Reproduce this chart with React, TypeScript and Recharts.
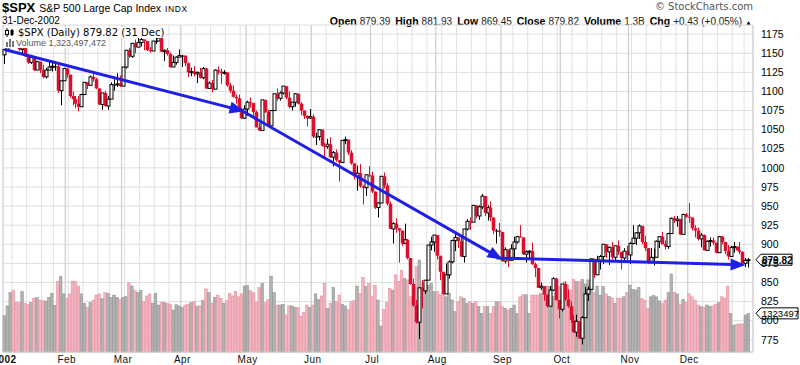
import React from "react"
import { ComposedChart, Bar, XAxis, YAxis, CartesianGrid, ReferenceLine } from "recharts"

const FONT = '"Liberation Sans", Arial, sans-serif'
const RED = "#dc0f2d"
const BLUE = "#1f1fe6"

// NYSE closed on these weekdays in 2002
const holidays = [
  "2002-01-01", "2002-01-21", "2002-02-18", "2002-03-29", "2002-05-27",
  "2002-07-04", "2002-09-02", "2002-11-28", "2002-12-25",
]
const monthLabels = ["2002", "Feb", "Mar", "Apr", "May", "Jun", "Jul", "Aug", "Sep", "Oct", "Nov", "Dec"]
const priceTicks = [775, 800, 825, 850, 875, 900, 925, 950, 975, 1000, 1025, 1050, 1075, 1100, 1125, 1150, 1175]

const opens = [
  1148, 1155, 1165, 1173, 1165, 1161, 1155, 1157, 1146, 1138, 1146, 1128, 1139, 1128, 1119, 1128, 1132, 1133, 1133, 1101, 1114,
  1130, 1122, 1094, 1090, 1084, 1080, 1096, 1112, 1108, 1119, 1116, 1104, 1083, 1098, 1081, 1090, 1109, 1109, 1110,
  1107, 1132, 1154, 1146, 1163, 1158, 1164, 1168, 1166, 1154, 1153, 1166, 1166, 1170, 1152, 1154, 1149, 1132, 1138, 1145,
  1147, 1147, 1137, 1125, 1126, 1123, 1125, 1118, 1130, 1104, 1111, 1103, 1128, 1126, 1124, 1125, 1108, 1101, 1093, 1091, 1076, 1065,
  1077, 1086, 1085, 1073, 1053, 1049, 1089, 1073, 1055, 1075, 1097, 1091, 1098, 1107, 1092, 1080, 1086, 1097, 1084, 1075, 1068, 1065,
  1067, 1041, 1041, 1050, 1029, 1028, 1031, 1014, 1020, 1010, 1007, 1036, 1037, 1020, 1006, 989, 993, 976, 974, 991,
  990, 969, 948, 954, 989, 977, 953, 920, 927, 921, 918, 901, 906, 882, 848, 820, 798, 843, 839, 853, 899, 903,
  912, 885, 864, 835, 860, 877, 905, 909, 904, 884, 920, 930, 929, 951, 937, 949, 963, 941, 948, 935, 918, 918,
  916, 878, 893, 879, 894, 903, 910, 909, 887, 890, 891, 874, 869, 843, 845, 834, 819, 840, 855, 827,
  815, 848, 828, 819, 801, 785, 799, 777, 804, 835, 841, 881, 860, 879, 884, 900, 890, 896, 883, 898, 890, 882, 891,
  886, 901, 908, 915, 924, 903, 895, 876, 883, 883, 904, 910, 900, 897, 914, 934, 931, 933, 913, 939,
  936, 935, 921, 918, 907, 912, 892, 904, 905, 902, 889, 910, 903, 891, 884, 896, 897, 892, 890, 875, 879.39,
]
const highs = [
  1155, 1166, 1177, 1177, 1167, 1175, 1160, 1160, 1146, 1148, 1146, 1140, 1139, 1135, 1131, 1140, 1139, 1139, 1138, 1114, 1131,
  1131, 1122, 1100, 1094, 1094, 1097, 1112, 1112, 1121, 1124, 1118, 1104, 1098, 1101, 1094, 1112, 1116, 1124, 1121,
  1132, 1154, 1157, 1163, 1168, 1173, 1173, 1168, 1166, 1158, 1166, 1173, 1174, 1170, 1155, 1157, 1151, 1147, 1146, 1155,
  1148, 1147, 1138, 1131, 1133, 1126, 1131, 1132, 1131, 1113, 1115, 1129, 1133, 1130, 1128, 1125, 1111, 1108, 1096, 1096, 1079, 1082,
  1088, 1092, 1085, 1075, 1059, 1089, 1089, 1076, 1075, 1097, 1104, 1100, 1107, 1107, 1100, 1086, 1098, 1097, 1086, 1075, 1069, 1077,
  1070, 1046, 1050, 1050, 1033, 1038, 1040, 1022, 1024, 1010, 1036, 1041, 1037, 1023, 1006, 1003, 1005, 977, 991, 1002,
  995, 969, 955, 989, 994, 980, 956, 929, 934, 921, 918, 927, 907, 882, 855, 827, 844, 853, 853, 899, 910, 912,
  912, 885, 864, 875, 879, 906, 914, 909, 911, 920, 933, 935, 951, 951, 951, 966, 963, 951, 956, 935, 920, 928,
  916, 896, 893, 900, 910, 911, 925, 909, 892, 892, 902, 876, 869, 850, 845, 834, 845, 857, 856, 827,
  848, 851, 841, 825, 808, 808, 799, 806, 844, 845, 881, 881, 885, 886, 900, 900, 897, 903, 898, 905, 890, 895, 898,
  903, 925, 916, 926, 924, 911, 895, 895, 894, 905, 910, 916, 905, 915, 935, 937, 937, 933, 940, 941,
  954, 935, 925, 922, 915, 913, 905, 909, 909, 902, 911, 911, 903, 899, 898, 903, 897, 903, 891, 882, 881.93,
]
const lows = [
  1136, 1154, 1163, 1161, 1157, 1153, 1148, 1145, 1136, 1136, 1127, 1128, 1124, 1117, 1117, 1128, 1126, 1127, 1098, 1082, 1114,
  1118, 1092, 1082, 1078, 1074, 1080, 1096, 1103, 1108, 1113, 1103, 1082, 1076, 1080, 1076, 1090, 1101, 1106, 1106,
  1107, 1130, 1144, 1144, 1150, 1158, 1159, 1154, 1153, 1151, 1153, 1162, 1166, 1152, 1140, 1147, 1131, 1132, 1135, 1145,
  1132, 1133, 1119, 1120, 1120, 1111, 1117, 1116, 1103, 1104, 1099, 1103, 1122, 1110, 1122, 1106, 1098, 1092, 1084, 1076, 1064, 1064,
  1068, 1079, 1068, 1053, 1048, 1049, 1072, 1054, 1053, 1075, 1088, 1088, 1096, 1090, 1078, 1075, 1080, 1083, 1069, 1064, 1054, 1064,
  1039, 1030, 1036, 1028, 1012, 1025, 1013, 1002, 1008, 982, 1007, 1031, 1017, 1004, 985, 970, 974, 952, 963, 988,
  967, 946, 935, 954, 973, 951, 920, 901, 915, 876, 898, 901, 880, 847, 818, 796, 776, 816, 835, 853, 892, 890,
  880, 853, 834, 835, 855, 875, 891, 895, 883, 876, 918, 919, 929, 934, 932, 946, 937, 931, 930, 913, 901, 910,
  877, 875, 870, 879, 883, 901, 909, 886, 876, 880, 873, 857, 843, 840, 826, 817, 819, 839, 826, 803,
  812, 826, 817, 797, 784, 779, 776, 769, 804, 826, 841, 856, 860, 867, 874, 882, 873, 880, 877, 886, 867, 879, 879,
  874, 900, 899, 907, 900, 891, 874, 876, 872, 883, 895, 900, 893, 894, 914, 928, 923, 912, 913, 935,
  928, 918, 909, 905, 896, 892, 892, 897, 899, 888, 889, 900, 887, 880, 884, 889, 892, 887, 873, 870, 869.45,
]
const closes = [
  1155, 1165, 1173, 1165, 1161, 1155, 1157, 1146, 1138, 1146, 1128, 1139, 1128, 1119, 1128, 1132, 1133, 1133, 1101, 1114, 1130,
  1122, 1094, 1090, 1084, 1080, 1096, 1112, 1108, 1119, 1116, 1104, 1083, 1098, 1081, 1090, 1109, 1109, 1110, 1107,
  1132, 1154, 1146, 1163, 1158, 1164, 1168, 1166, 1154, 1153, 1166, 1166, 1170, 1152, 1154, 1149, 1132, 1138, 1145, 1147,
  1147, 1137, 1125, 1126, 1123, 1125, 1118, 1130, 1104, 1111, 1103, 1128, 1126, 1124, 1125, 1108, 1101, 1093, 1091, 1076, 1065, 1077,
  1086, 1085, 1073, 1053, 1049, 1089, 1073, 1055, 1075, 1097, 1091, 1098, 1107, 1092, 1080, 1086, 1097, 1084, 1075, 1068, 1065, 1067,
  1041, 1041, 1050, 1029, 1028, 1031, 1014, 1020, 1010, 1007, 1036, 1037, 1020, 1006, 989, 993, 976, 974, 991, 990,
  969, 948, 954, 989, 977, 953, 920, 927, 921, 918, 901, 906, 882, 848, 820, 798, 843, 839, 853, 899, 903, 912,
  885, 864, 835, 860, 877, 905, 909, 904, 884, 920, 930, 929, 951, 937, 949, 963, 941, 948, 935, 918, 918, 916,
  878, 893, 879, 894, 903, 910, 909, 887, 890, 891, 874, 869, 843, 845, 834, 819, 840, 855, 827, 815,
  848, 828, 819, 801, 785, 799, 777, 804, 835, 841, 881, 860, 879, 884, 900, 890, 896, 883, 898, 890, 882, 891, 886,
  901, 908, 915, 924, 903, 895, 876, 883, 883, 904, 910, 900, 897, 914, 934, 931, 933, 913, 939, 936,
  935, 921, 918, 907, 912, 892, 904, 905, 902, 889, 910, 903, 891, 884, 896, 897, 892, 890, 875, 879, 879.82,
]
// billions of shares
const volumes = [
  1.24, 1.58, 2.03, 2.12, 1.70, 1.69, 2.07, 1.67, 1.63, 1.69, 1.84, 1.86, 1.78, 1.76, 1.74, 1.87, 2.01, 1.60, 2.41, 2.58, 1.99,
  1.84, 1.99, 2.43, 2.41, 2.26, 1.99, 1.67, 1.53, 1.69, 1.78, 1.95, 1.99, 1.83, 2.03, 2.01, 1.87, 1.95, 1.87, 1.80,
  1.87, 1.90, 2.37, 2.26, 2.10, 2.03, 2.10, 1.72, 1.92, 1.99, 1.67, 2.01, 1.61, 1.69, 1.69, 1.67, 1.63, 1.44, 1.62, 1.58,
  1.53, 1.61, 1.64, 1.69, 1.72, 1.55, 1.58, 1.76, 2.16, 2.03, 1.67, 1.87, 1.95, 1.84, 1.67, 1.76, 2.01, 1.92, 2.08, 1.89, 1.99, 2.26,
  2.28, 2.10, 2.03, 1.71, 2.21, 2.35, 1.69, 1.80, 2.60, 2.03, 1.61, 1.61, 1.63, 1.27, 1.58, 1.58, 1.53, 1.53, 1.23, 1.35, 1.61, 1.53,
  1.61, 1.99, 1.80, 1.92, 2.35, 1.50, 1.67, 2.21, 1.72, 1.95, 1.63, 1.58, 1.46, 1.72, 1.76, 2.26, 2.01, 2.56, 2.24, 2.35,
  1.89, 2.29, 1.78, 0.89, 1.46, 1.69, 2.18, 2.12, 2.64, 2.41, 2.79, 2.52, 2.47, 1.89, 1.66, 2.92, 3.15, 2.35, 2.12, 2.29, 2.35, 2.07,
  2.07, 1.96, 2.01, 1.89, 2.01, 1.78, 1.38, 1.72, 1.89, 1.84, 1.66, 1.72, 1.66, 1.72, 1.55, 1.32, 1.55, 1.55, 1.32, 1.55, 1.72, 1.72,
  1.55, 1.50, 1.44, 1.50, 1.61, 1.32, 1.89, 1.96, 1.96, 1.32, 1.95, 1.95, 1.95, 2.01, 2.10, 2.26, 2.24, 1.90, 2.01, 2.26,
  2.18, 2.41, 2.30, 2.12, 2.49, 2.41, 2.41, 2.49, 2.33, 2.47, 2.20, 2.03, 2.26, 1.95, 2.24, 1.99, 1.90, 1.85, 1.67, 1.84, 1.84, 1.89, 2.03,
  2.29, 2.15, 2.12, 2.21, 1.84, 1.78, 1.50, 1.89, 1.94, 1.89, 1.75, 1.67, 1.78, 2.03, 2.67, 2.05, 1.99, 1.64, 1.80, 1.70,
  1.99, 1.89, 1.78, 1.61, 1.55, 1.53, 1.61, 1.55, 1.58, 1.64, 1.69, 1.89, 1.84, 2.26, 1.32, 0.92, 0.94, 0.96, 0.96, 1.27, 1.3235,
]

// blue trend arrows: [start day, start price, end day, end price]
const trendLines = [
  [0, 1155, 81, 1074],
  [80, 1075, 168, 880],
  [166, 882, 250, 873],
]

const stats = [
  ["Open", "879.39"],
  ["High", "881.93"],
  ["Low", "869.45"],
  ["Close", "879.82"],
  ["Volume", "1.3B"],
  ["Chg", "+0.43 (+0.05%)"],
]

function tradingDays() {
  const out: Date[] = []
  const d = new Date(Date.UTC(2002, 0, 1))
  while (d.getUTCFullYear() === 2002) {
    const wd = d.getUTCDay()
    const iso = d.toISOString().slice(0, 10)
    if (wd !== 0 && wd !== 6 && !holidays.includes(iso)) out.push(new Date(d))
    d.setUTCDate(d.getUTCDate() + 1)
  }
  return out
}

const days = tradingDays()
const rows = days.map((d, i) => ({
  i,
  month: d.getUTCMonth(),
  weekday: d.getUTCDay(),
  open: opens[i],
  high: highs[i],
  low: lows[i],
  close: closes[i],
  prev: i > 0 ? closes[i - 1] : opens[0],
  range: [lows[i], highs[i]],
  volume: volumes[i],
}))

const monthStarts = rows.filter((r, k) => k === 0 || r.month !== rows[k - 1].month).map((r) => r.i)
const weekStarts = rows
  .filter((r, k) => k > 0 && r.weekday < rows[k - 1].weekday && !monthStarts.includes(r.i))
  .map((r) => r.i)

const Candle = (p: any) => {
  const { x, y, width, height, payload } = p
  if (payload == null) return <g />
  const top = Math.min(y, y + height)
  const h = Math.abs(height)
  const ratio = payload.high === payload.low ? 0 : h / (payload.high - payload.low)
  const cx = Math.round(x + width / 2) + 0.5
  const yo = top + (payload.high - payload.open) * ratio
  const yc = top + (payload.high - payload.close) * ratio
  const color = payload.close < payload.prev ? RED : "#000"
  const hollow = payload.close > payload.open
  const bTop = Math.min(yo, yc)
  const bH = Math.max(Math.abs(yo - yc), 1)
  return (
    <g>
      <line x1={cx} x2={cx} y1={top} y2={top + h} stroke={color} strokeWidth={1} />
      {hollow ? (
        <rect x={cx - 1.5} y={bTop} width={3} height={bH} fill="#fff" stroke={color} strokeWidth={1} />
      ) : (
        <rect x={cx - 1.75} y={bTop} width={3.5} height={bH} fill={color} />
      )}
    </g>
  )
}

const VolumeBar = (p: any) => {
  const { x, y, width, height, payload } = p
  if (payload == null) return <g />
  const down = payload.close < payload.prev
  return (
    <rect
      x={x}
      y={y}
      width={width}
      height={height}
      fill={down ? "#f2b4be" : "#b2b2b2"}
      stroke={down ? "#e3899a" : "#8c8c8c"}
      strokeWidth={0.5}
    />
  )
}

const Arrow = (p: any) => {
  const { x1, y1, x2, y2 } = p
  if (x1 == null || y1 == null) return <g />
  const a = Math.atan2(y2 - y1, x2 - x1)
  const c = Math.cos(a)
  const s = Math.sin(a)
  const len = 15
  const half = 6
  const bx = x2 - len * c
  const by = y2 - len * s
  return (
    <g>
      <line x1={x1} y1={y1} x2={bx + 2 * c} y2={by + 2 * s} stroke={BLUE} strokeWidth={3} />
      <polygon
        points={`${x2},${y2} ${bx - half * s},${by + half * c} ${bx + half * s},${by - half * c}`}
        fill={BLUE}
      />
    </g>
  )
}

const tag = (text: string, w: number, fontSize: number, bold: boolean) => (props: any) => {
  const vb = props.viewBox
  if (!vb) return null
  const x = vb.x + vb.width + 3
  const y = vb.y
  return (
    <g>
      <polygon
        points={`${x},${y} ${x + 5},${y - 5.5} ${x + w},${y - 5.5} ${x + w},${y + 5.5} ${x + 5},${y + 5.5}`}
        fill="#fff"
        stroke="#000"
        strokeWidth={1}
      />
      <text x={x + 6} y={y + 4} fontSize={fontSize} fontWeight={bold ? "bold" : "normal"} fontFamily={FONT} fill="#000">
        {text}
      </text>
    </g>
  )
}

const MonthTick = (props: any) => {
  const { x, y, payload } = props
  const k = monthStarts.indexOf(payload.value)
  if (k < 0) return <g />
  return (
    <text
      x={x}
      y={y + 11}
      textAnchor="middle"
      fontSize={10}
      fontFamily={FONT}
      fontWeight={k === 0 ? "bold" : "normal"}
      letterSpacing={0.4}
      fill="#111"
    >
      {monthLabels[k]}
    </text>
  )
}

export default function App() {
  return (
    <div
      style={{
        position: "absolute",
        left: 0,
        top: 0,
        width: 800,
        height: 365,
        background: "#fff",
        fontFamily: FONT,
        overflow: "hidden",
        color: "#000",
      }}
    >
      <div style={{ position: "absolute", left: 2, top: -1, whiteSpace: "nowrap", lineHeight: "16px" }}>
        <span style={{ fontSize: 13, fontWeight: "bold" }}>$SPX</span>
        <span style={{ fontSize: 10.5, marginLeft: 4 }}>S&amp;P 500 Large Cap Index</span>
        <span style={{ fontSize: 8.5, marginLeft: 4, letterSpacing: 0.6 }}>INDX</span>
      </div>
      <div style={{ position: "absolute", left: 2, top: 15, fontSize: 10, lineHeight: "12px" }}>31-Dec-2002</div>
      <div
        style={{
          position: "absolute",
          right: 47,
          top: 1,
          fontSize: 10,
          lineHeight: "12px",
          color: "#555",
          fontFamily: "DejaVu Sans",
        }}
      >
        © StockCharts.com
      </div>
      <div
        style={{
          position: "absolute",
          right: 48,
          top: 15,
          lineHeight: "12px",
          whiteSpace: "nowrap",
          display: "flex",
          alignItems: "baseline",
        }}
      >
        {stats.map(([k, v], n) => (
          <React.Fragment key={k}>
            <b style={{ fontSize: 10.5, marginLeft: n === 0 ? 0 : 5 }}>{k}</b>
            <span style={{ fontSize: 10, marginLeft: 3, color: "#222" }}>{v}</span>
          </React.Fragment>
        ))}
        <span style={{ fontSize: 7, marginLeft: 3 }}>▲</span>
      </div>

      <div style={{ position: "absolute", left: 0, top: 0 }}>
        <ComposedChart width={800} height={365} data={rows} margin={{ top: 25, right: 0, bottom: 0, left: 3 }}>
          <CartesianGrid xAxisId="main" yAxisId="price" vertical={false} stroke="#dedede" />
          <XAxis
            xAxisId="main"
            dataKey="i"
            type="category"
            ticks={monthStarts}
            interval={0}
            tick={<MonthTick />}
            tickLine={false}
            tickSize={0}
            tickMargin={0}
            axisLine={{ stroke: "#cfcfcf" }}
            height={13}
            padding={{ left: 0, right: 3 }}
          />
          <XAxis xAxisId="vol" dataKey="i" type="category" hide padding={{ left: 0, right: 3 }} />
          <YAxis
            yAxisId="price"
            orientation="right"
            domain={[759, 1187]}
            ticks={priceTicks}
            interval={0}
            width={47}
            tickLine={false}
            axisLine={{ stroke: "#bdbdbd" }}
            tick={{ fontSize: 10.5, fill: "#000", fontFamily: FONT }}
          />
          <YAxis yAxisId="vol" hide domain={[0, 11.2]} />

          {weekStarts.map((i) => (
            <ReferenceLine
              key={"w" + i}
              xAxisId="main"
              yAxisId="price"
              x={i}
              position="start"
              stroke="#e0e0e0"
              zIndex={-50}
            />
          ))}
          {monthStarts.map((i) => (
            <ReferenceLine
              key={"m" + i}
              xAxisId="main"
              yAxisId="price"
              x={i}
              position="start"
              stroke="#cdcdcd"
              strokeWidth={1.2}
              zIndex={-50}
            />
          ))}

          <Bar
            xAxisId="vol"
            yAxisId="vol"
            dataKey="volume"
            barSize={3}
            shape={VolumeBar}
            isAnimationActive={false}
          />
          <Bar
            xAxisId="main"
            yAxisId="price"
            dataKey="range"
            barSize={3}
            shape={Candle}
            isAnimationActive={false}
          />

          {trendLines.map(([a, pa, b, pb], k) => (
            <ReferenceLine
              key={"t" + k}
              xAxisId="main"
              yAxisId="price"
              segment={[{ x: a, y: pa }, { x: b, y: pb }]}
              shape={Arrow}
              zIndex={900}
            />
          ))}

          <ReferenceLine
            xAxisId="main"
            yAxisId="price"
            y={closes[closes.length - 1]}
            stroke="none"
            label={tag("879.82", 36, 10, true)}
            zIndex={900}
          />
          <ReferenceLine
            xAxisId="vol"
            yAxisId="vol"
            y={volumes[volumes.length - 1]}
            stroke="none"
            label={tag("1323497", 42, 9.5, false)}
            zIndex={900}
          />
        </ComposedChart>
      </div>

      <div
        style={{
          position: "absolute",
          left: 5,
          top: 27,
          height: 11,
          display: "flex",
          alignItems: "center",
          whiteSpace: "nowrap",
          background: "#fff",
          paddingRight: 2,
        }}
      >
        <svg width={11} height={9} style={{ marginRight: 2 }}>
          <line x1={2} x2={2} y1={0} y2={9} stroke="#000" />
          <rect x={0.5} y={2.5} width={3} height={4} fill="#fff" stroke="#000" />
          <line x1={7} x2={7} y1={1} y2={8} stroke="#000" />
          <rect x={5.5} y={2} width={3} height={5} fill="#000" />
        </svg>
        <span style={{ fontSize: 10, fontFamily: "DejaVu Sans" }}>$SPX (Daily) 879.82 (31 Dec)</span>
      </div>
      <div
        style={{
          position: "absolute",
          left: 5,
          top: 38,
          height: 10,
          display: "flex",
          alignItems: "center",
          whiteSpace: "nowrap",
          background: "#fff",
          paddingRight: 2,
        }}
      >
        <svg width={10} height={8} style={{ marginRight: 1 }}>
          <rect x={1} y={3} width={2} height={5} fill="#777" />
          <rect x={4} y={0} width={2} height={8} fill="#777" />
          <rect x={7} y={2} width={2} height={6} fill="#777" />
        </svg>
        <span style={{ fontSize: 9, color: "#555" }}>Volume 1,323,497,472</span>
      </div>
    </div>
  )
}
